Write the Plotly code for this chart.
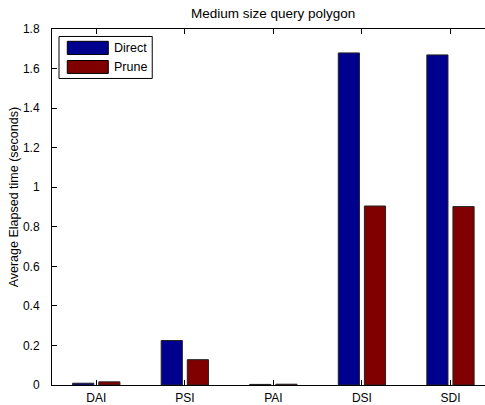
import plotly.graph_objects as go

# Query-polygon benchmark: average elapsed time per index type
categories = ["DAI", "PSI", "PAI", "DSI", "SDI"]
direct_times = [0.009, 0.225, 0.003, 1.679, 1.669]
prune_times = [0.016, 0.128, 0.004, 0.905, 0.902]
series_names = ["Direct", "Prune"]
series_colors = ["#00008F", "#800000"]
y_ticks = [0, 0.2, 0.4, 0.6, 0.8, 1.0, 1.2, 1.4, 1.6, 1.8]

positions = list(range(1, len(categories) + 1))
FONT = "Liberation Sans, Arial, Helvetica, sans-serif"

fig = go.Figure()
for name, vals, col in zip(series_names, [direct_times, prune_times], series_colors):
    fig.add_trace(go.Bar(
        x=positions, y=vals, name=name,
        marker=dict(color=col, line=dict(color="#222222", width=1)),
        showlegend=False,
    ))

fig.update_layout(
    width=485, height=405,
    margin=dict(l=52, r=0, t=29, b=18, pad=0),
    paper_bgcolor="white", plot_bgcolor="white",
    barmode="group", bargap=0.41, bargroupgap=0.19,
    font=dict(family=FONT, size=12, color="black"),
    xaxis=dict(
        range=[0.5, 5.39], tickvals=positions, ticktext=categories,
        showgrid=False, zeroline=False, showline=True, linecolor="black",
        linewidth=1, ticks="inside", ticklen=5, tickcolor="black",
        mirror="ticks", tickfont=dict(size=12), ticklabelstandoff=2,
    ),
    yaxis=dict(
        range=[0, 1.8], tickvals=y_ticks,
        ticktext=[f"{v:g}" for v in y_ticks],
        showgrid=False, zeroline=False, showline=True, linecolor="black",
        linewidth=1, ticks="inside", ticklen=5, tickcolor="black",
        tickfont=dict(size=12), ticklabelstandoff=9,
    ),
)

# Title and y-axis label
fig.add_annotation(text="Medium size query polygon", xref="paper", yref="paper",
                   x=0.511, y=1.043, xanchor="center", yanchor="middle",
                   showarrow=False, font=dict(size=13.5))
fig.add_annotation(text="Average Elapsed time (seconds)", xref="paper", yref="paper",
                   x=-0.087, y=0.528, xanchor="center", yanchor="middle",
                   textangle=-90, showarrow=False, font=dict(size=12.5))

# Boxed legend with wide swatches
fig.add_shape(type="rect", xref="paper", yref="paper",
              x0=0.0162, x1=0.2315, y0=0.861, y1=0.979,
              line=dict(color="black", width=1), fillcolor="white")
swatch_rows = [(0.9283, 0.9654, 0.947), (0.8752, 0.9115, 0.8934)]
for (y0, y1, ym), name, col in zip(swatch_rows, series_names, series_colors):
    fig.add_shape(type="rect", xref="paper", yref="paper",
                  x0=0.0353, x1=0.130, y0=y0, y1=y1,
                  line=dict(color="black", width=1), fillcolor=col)
    fig.add_annotation(text=name, xref="paper", yref="paper",
                       x=0.139, y=ym, xanchor="left", yanchor="middle",
                       showarrow=False, font=dict(size=12.5))

fig.write_html("out.html")
